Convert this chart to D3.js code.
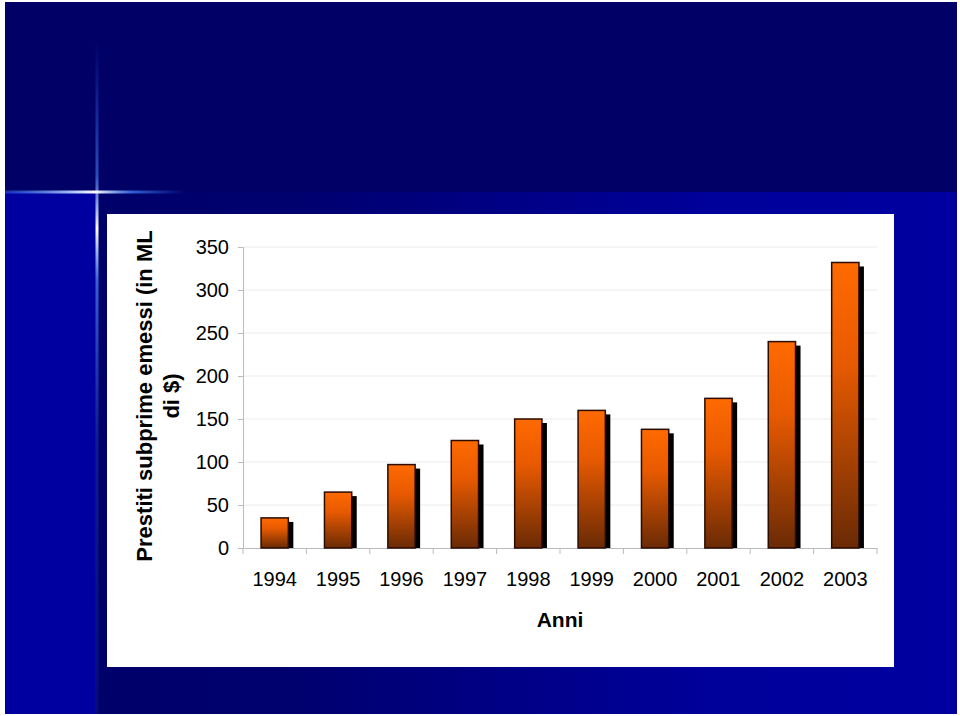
<!DOCTYPE html>
<html><head><meta charset="utf-8">
<script src="https://cdn.jsdelivr.net/npm/d3@7"></script>
<style>html,body{margin:0;padding:0;background:#fff;}svg{display:block;}</style>
</head><body>
<svg id="c" width="960" height="716"></svg>
<script>
const years = ["1994","1995","1996","1997","1998","1999","2000","2001","2002","2003"];
const values = [35, 65, 97, 125, 150, 160, 138, 174, 240, 332];
const yTicks = [0, 50, 100, 150, 200, 250, 300, 350];
const yTitle = ["Prestiti subprime emessi (in ML", "di $)"];
const xTitle = "Anni";

const svg = d3.select("#c");
const defs = svg.append("defs");

const bg = defs.append("linearGradient").attr("id","bgH").attr("x1","0").attr("x2","1").attr("y1","0").attr("y2","0");
bg.append("stop").attr("offset","0").attr("stop-color","#00006a");
bg.append("stop").attr("offset","0.25").attr("stop-color","#000070");
bg.append("stop").attr("offset","0.7").attr("stop-color","#00009a");
bg.append("stop").attr("offset","1").attr("stop-color","#0000a0");

const vGlow = defs.append("linearGradient").attr("id","vGlow").attr("x1","0").attr("x2","0").attr("y1","0").attr("y2","1");
vGlow.append("stop").attr("offset","0").attr("stop-color","#3a7aff").attr("stop-opacity",0);
vGlow.append("stop").attr("offset","0.2").attr("stop-color","#4a8aff").attr("stop-opacity",0.55);
vGlow.append("stop").attr("offset","0.28").attr("stop-color","#ffffff").attr("stop-opacity",1);
vGlow.append("stop").attr("offset","0.36").attr("stop-color","#4a8aff").attr("stop-opacity",0.7);
vGlow.append("stop").attr("offset","0.6").attr("stop-color","#3a6aff").attr("stop-opacity",0.25);
vGlow.append("stop").attr("offset","1").attr("stop-color","#3a6aff").attr("stop-opacity",0.1);

const hGlow = defs.append("linearGradient").attr("id","hGlow").attr("x1","0").attr("x2","1").attr("y1","0").attr("y2","1");
hGlow.attr("y2","0");
hGlow.append("stop").attr("offset","0").attr("stop-color","#3a7aff").attr("stop-opacity",0.4);
hGlow.append("stop").attr("offset","0.35").attr("stop-color","#aaccff").attr("stop-opacity",0.9);
hGlow.append("stop").attr("offset","0.5").attr("stop-color","#ffffff").attr("stop-opacity",1);
hGlow.append("stop").attr("offset","0.7").attr("stop-color","#4a8aff").attr("stop-opacity",0.7);
hGlow.append("stop").attr("offset","1").attr("stop-color","#3a7aff").attr("stop-opacity",0);

const barG = defs.append("linearGradient").attr("id","barG").attr("x1","0").attr("x2","0").attr("y1","0").attr("y2","1");
barG.append("stop").attr("offset","0").attr("stop-color","#ff6a00");
barG.append("stop").attr("offset","0.35").attr("stop-color","#e85a00");
barG.append("stop").attr("offset","1").attr("stop-color","#6a2a05");

svg.append("rect").attr("x",5).attr("y",2).attr("width",952).attr("height",712).attr("fill","#000066");
svg.append("rect").attr("x",5).attr("y",192).attr("width",91).attr("height",522).attr("fill","#0000a0");
svg.append("rect").attr("x",96).attr("y",192).attr("width",861).attr("height",522).attr("fill","url(#bgH)");
svg.append("rect").attr("x",95.5).attr("y",40).attr("width",3).attr("height",674).attr("fill","url(#vGlow)");
svg.append("rect").attr("x",5).attr("y",190.5).attr("width",180).attr("height",3).attr("fill","url(#hGlow)");

svg.append("rect").attr("x",107).attr("y",214).attr("width",787).attr("height",453).attr("fill","#ffffff");

const m = {left:243, right:877, top:247, bottom:548};
const x = d3.scaleBand().domain(years).range([m.left, m.right]).paddingInner(0.57).paddingOuter(0.285);
const xb = d3.scaleBand().domain(years).range([m.left, m.right]);
const y = d3.scaleLinear().domain([0,350]).range([m.bottom, m.top]);
const FONT = "'Liberation Sans', Arial, sans-serif";

svg.append("g").selectAll("line").data(yTicks.filter(d=>d>0)).join("line")
  .attr("x1",m.left).attr("x2",m.right).attr("y1",d=>y(d)).attr("y2",d=>y(d))
  .attr("stroke","#ececec").attr("stroke-width",1);

const yAx = svg.append("g").attr("transform",`translate(${m.left},0)`)
  .call(d3.axisLeft(y).tickValues(yTicks).tickSize(5).tickPadding(9).tickFormat(d3.format("d")));
yAx.select(".domain").attr("stroke","#bbbbbb");
yAx.selectAll(".tick line").attr("stroke","#bbbbbb");
yAx.selectAll("text").attr("font-family",FONT).attr("font-size",20).attr("fill","#000");

const xAx = svg.append("g").attr("transform",`translate(0,${m.bottom})`)
  .call(d3.axisBottom(xb).tickSize(0).tickPadding(24));
xAx.select(".domain").attr("stroke","#bbbbbb");
xAx.selectAll("text").attr("font-family",FONT).attr("font-size",20).attr("fill","#000");
svg.append("g").selectAll("line").data(years.concat(["end"])).join("line")
  .attr("x1",(d,i)=>m.left + i*xb.step()).attr("x2",(d,i)=>m.left + i*xb.step())
  .attr("y1",m.bottom).attr("y2",m.bottom+6).attr("stroke","#bbbbbb");

svg.append("g").selectAll("rect").data(values).join("rect")
  .attr("x",(d,i)=>x(years[i])+5).attr("y",d=>y(d)+4)
  .attr("width",x.bandwidth()).attr("height",d=>m.bottom - y(d) - 4)
  .attr("fill","#000");
svg.append("g").selectAll("rect").data(values).join("rect")
  .attr("x",(d,i)=>x(years[i])).attr("y",d=>y(d))
  .attr("width",x.bandwidth()).attr("height",d=>m.bottom - y(d))
  .attr("fill","url(#barG)").attr("stroke","#2a0c00").attr("stroke-width",1.5);

svg.append("text").attr("x",(m.left+m.right)/2).attr("y",627).attr("text-anchor","middle")
  .attr("font-family",FONT).attr("font-size",21).attr("font-weight","bold").text(xTitle);
const yt = svg.append("text").attr("transform","translate(152,396) rotate(-90)").attr("text-anchor","middle")
  .attr("font-family",FONT).attr("font-size",22).attr("font-weight","bold");
yt.selectAll("tspan").data(yTitle).join("tspan").attr("x",0).attr("dy",(d,i)=>i===0?0:27).text(d=>d);
</script>
</body></html>
